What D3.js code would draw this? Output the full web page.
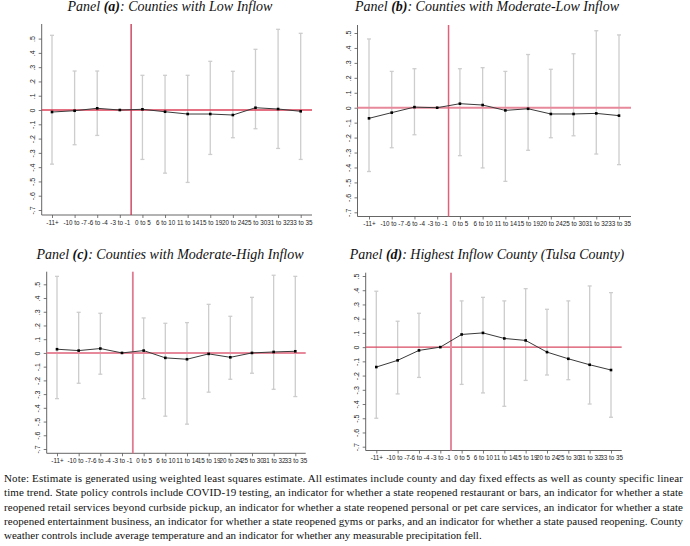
<!DOCTYPE html>
<html>
<head>
<meta charset="utf-8">
<script src="https://cdn.jsdelivr.net/npm/d3@7"></script>
<style>
  html, body { margin: 0; padding: 0; background: #fff; }
  svg { display: block; }
</style>
</head>
<body>
<svg id="chart" width="690" height="546"></svg>
<script>
// ---------------- DATA ----------------
const categories = ["-11+", "-10 to -7", "-6 to -4", "-3 to -1", "0 to 5", "6 to 10",
  "11 to 14", "15 to 19", "20 to 24", "25 to 30", "31 to 32", "33 to 35"];
const yTickValues = [0.5, 0.4, 0.3, 0.2, 0.1, 0, -0.1, -0.2, -0.3, -0.4, -0.5, -0.6, -0.7];
const yTickLabels = [".5", ".4", ".3", ".2", ".1", "0", "-.1", "-.2", "-.3", "-.4", "-.5", "-.6", "-.7"];

// Panel (a): Counties with Low Inflow
const estA = [-0.014, -0.005, 0.012, 0, 0.005, -0.012, -0.028, -0.028, -0.035, 0.016, 0.007, -0.009];
const hiA  = [0.523, 0.273, 0.273, null, 0.243, 0.243, 0.243, 0.341, 0.271, 0.425, 0.565, 0.537];
const loA  = [-0.379, -0.243, -0.178, null, -0.346, -0.442, -0.507, -0.311, -0.194, -0.131, -0.269, -0.346];

// Panel (b): Counties with Moderate-Low Inflow
const estB = [-0.071, -0.033, 0.004, 0, 0.027, 0.018, -0.018, -0.007, -0.042, -0.042, -0.038, -0.053];
const hiB  = [0.460, 0.243, 0.261, null, 0.261, 0.268, 0.243, 0.356, 0.257, 0.361, 0.515, 0.487];
const loB  = [-0.427, -0.268, -0.181, null, -0.321, -0.403, -0.493, -0.285, -0.201, -0.188, -0.310, -0.381];

// Panel (c): Counties with Moderate-High Inflow
const estC = [0.027, 0.017, 0.032, 0, 0.017, -0.036, -0.046, -0.007, -0.032, 0.000, 0.007, 0.012];
const hiC  = [0.558, 0.296, 0.289, null, 0.255, 0.216, 0.221, 0.354, 0.267, 0.405, 0.566, 0.558];
const loC  = [-0.333, -0.221, -0.155, null, -0.333, -0.461, -0.519, -0.286, -0.192, -0.148, -0.265, -0.318];

// Panel (d): Highest Inflow County (Tulsa County)
const estD = [-0.140, -0.093, -0.023, 0, 0.089, 0.100, 0.061, 0.047, -0.035, -0.082, -0.124, -0.161];
const hiD  = [0.393, 0.182, 0.238, null, 0.325, 0.350, 0.325, 0.411, 0.266, 0.325, 0.430, 0.383];
const loD  = [-0.500, -0.329, -0.213, null, -0.262, -0.322, -0.416, -0.234, -0.196, -0.229, -0.400, -0.493];

const noteLines = [
  "Note: Estimate is generated using weighted least squares estimate. All estimates include county and day fixed effects as well as county specific linear",
  "time trend. State policy controls include COVID-19 testing, an indicator for whether a state reopened restaurant or bars, an indicator for whether a state",
  "reopened retail services beyond curbside pickup, an indicator for whether a state reopened personal or pet care services, an indicator for whether a state",
  "reopened entertainment business, an indicator for whether a state reopened gyms or parks, and an indicator for whether a state paused reopening. County",
  "weather controls include average temperature and an indicator for whether any measurable precipitation fell."
];

// ---------------- LAYOUT ----------------
const panels = [
  { letter: "a", rest: ": Counties with Low Inflow", est: estA, lo: loA, hi: hiA,
    titleX: 170, titleY: 11,
    axisX: 41.7, rightX: 312, topY: 24, bottomY: 215,
    firstX: 52, lastX: 300.7, yTop: 38.6, yBot: 210,
    hColor: "#dd4058", hWidth: 1.3, vColor: "#c8304c", vWidth: 1.3 },
  { letter: "b", rest: ": Counties with Moderate-Low Inflow", est: estB, lo: loB, hi: hiB,
    titleX: 487, titleY: 11,
    axisX: 357.5, rightX: 631, topY: 25, bottomY: 216.5,
    firstX: 369, lastX: 619, yTop: 33, yBot: 212.3,
    hColor: "#e7899b", hWidth: 2, vColor: "#e0607a", vWidth: 1.5 },
  { letter: "c", rest: ": Counties with Moderate-High Inflow", est: estC, lo: loC, hi: hiC,
    titleX: 170, titleY: 258.5,
    axisX: 46.7, rightX: 305.7, topY: 271.7, bottomY: 453.3,
    firstX: 57, lastX: 295.3, yTop: 284.3, yBot: 449,
    hColor: "#e7899b", hWidth: 2, vColor: "#e07a90", vWidth: 1.8 },
  { letter: "d", rest: ": Highest Inflow County (Tulsa County)", est: estD, lo: loD, hi: hiD,
    titleX: 487, titleY: 258.5,
    axisX: 365.7, rightX: 621.7, topY: 272.7, bottomY: 450.5,
    firstX: 376.3, lastX: 611, yTop: 276, yBot: 446.7,
    hColor: "#d94a63", hWidth: 1.3, vColor: "#e58a9c", vWidth: 2 }
];

const svg = d3.select("#chart");

panels.forEach(p => {
  const g = svg.append("g");
  const x = d3.scalePoint().domain(categories).range([p.firstX, p.lastX]);
  const y = d3.scaleLinear().domain([-0.7, 0.5]).range([p.yBot, p.yTop]);

  // Title
  const t = g.append("text")
    .attr("x", p.titleX).attr("y", p.titleY)
    .attr("text-anchor", "middle")
    .attr("font-family", "'Liberation Serif', 'Times New Roman', serif")
    .attr("font-style", "italic")
    .attr("font-size", 14)
    .attr("fill", "#111");
  t.append("tspan").text("Panel ");
  t.append("tspan").attr("font-weight", "bold").text("(" + p.letter + ")");
  t.append("tspan").text(p.rest);

  // Y axis
  const yAxis = d3.axisLeft(y).tickValues(yTickValues)
    .tickFormat((d, i) => yTickLabels[i]).tickSize(3).tickPadding(3);
  const ya = g.append("g").attr("transform", `translate(${p.axisX},0)`).call(yAxis);
  ya.select(".domain").remove();
  ya.selectAll(".tick line").attr("stroke", "#555").attr("stroke-width", 0.8);
  ya.selectAll(".tick text")
    .attr("font-family", "'Liberation Sans', Arial, sans-serif")
    .attr("font-size", 7)
    .attr("fill", "#222")
    .attr("x", null).attr("dy", null)
    .attr("text-anchor", "middle")
    .attr("transform", "translate(-6.5,0) rotate(-90)")
    .attr("y", 0);

  // X axis
  const xAxis = d3.axisBottom(x).tickSize(3).tickPadding(2.5);
  const xa = g.append("g").attr("transform", `translate(0,${p.bottomY})`).call(xAxis);
  xa.select(".domain").remove();
  xa.selectAll(".tick line").attr("stroke", "#555").attr("stroke-width", 0.8);
  xa.selectAll(".tick text")
    .attr("font-family", "'Liberation Sans', Arial, sans-serif")
    .attr("font-size", 6.3)
    .attr("fill", "#222");

  // Axis lines
  g.append("line").attr("x1", p.axisX).attr("x2", p.axisX)
    .attr("y1", p.topY).attr("y2", p.bottomY)
    .attr("stroke", "#555").attr("stroke-width", 0.9);
  g.append("line").attr("x1", p.axisX).attr("x2", p.rightX)
    .attr("y1", p.bottomY).attr("y2", p.bottomY)
    .attr("stroke", "#555").attr("stroke-width", 0.9);

  // Error bars (confidence intervals)
  const ci = categories.map((c, i) => ({ c, lo: p.lo[i], hi: p.hi[i] })).filter(d => d.lo !== null);
  const capW = 2;
  const eb = g.append("g").attr("stroke", "#cdcdcd").attr("stroke-width", 1.3).attr("fill", "none");
  eb.selectAll("line.v").data(ci).join("line").attr("class", "v")
    .attr("x1", d => x(d.c)).attr("x2", d => x(d.c))
    .attr("y1", d => y(d.hi)).attr("y2", d => y(d.lo));
  eb.selectAll("line.t").data(ci).join("line").attr("class", "t")
    .attr("x1", d => x(d.c) - capW).attr("x2", d => x(d.c) + capW)
    .attr("y1", d => y(d.hi)).attr("y2", d => y(d.hi));
  eb.selectAll("line.b").data(ci).join("line").attr("class", "b")
    .attr("x1", d => x(d.c) - capW).attr("x2", d => x(d.c) + capW)
    .attr("y1", d => y(d.lo)).attr("y2", d => y(d.lo));

  // Reference lines
  g.append("line").attr("x1", p.axisX).attr("x2", p.rightX)
    .attr("y1", y(0)).attr("y2", y(0))
    .attr("stroke", p.hColor).attr("stroke-width", p.hWidth);
  const vx = (x(categories[3]) + x(categories[4])) / 2;
  g.append("line").attr("x1", vx).attr("x2", vx)
    .attr("y1", p.topY).attr("y2", p.bottomY)
    .attr("stroke", p.vColor).attr("stroke-width", p.vWidth);

  // Estimate line
  const pts = categories.map((c, i) => ({ c, v: p.est[i] }));
  g.append("path").datum(pts)
    .attr("d", d3.line().x(d => x(d.c)).y(d => y(d.v)))
    .attr("fill", "none").attr("stroke", "#3a3a3a").attr("stroke-width", 1);
  g.selectAll("rect.m").data(pts).join("rect").attr("class", "m")
    .attr("x", d => x(d.c) - 1.3).attr("y", d => y(d.v) - 1.3)
    .attr("width", 2.6).attr("height", 2.6).attr("fill", "#000");
});

// Note
const note = svg.append("g")
  .attr("font-family", "'Liberation Serif', 'Times New Roman', serif")
  .attr("font-size", 11).attr("fill", "#111");
noteLines.forEach((line, i) => {
  const tx = note.append("text").attr("x", 4).attr("y", 482 + i * 14.3).text(line);
  if (i < noteLines.length - 1) {
    tx.attr("textLength", 679).attr("lengthAdjust", "spacing");
  }
});
</script>
</body>
</html>
